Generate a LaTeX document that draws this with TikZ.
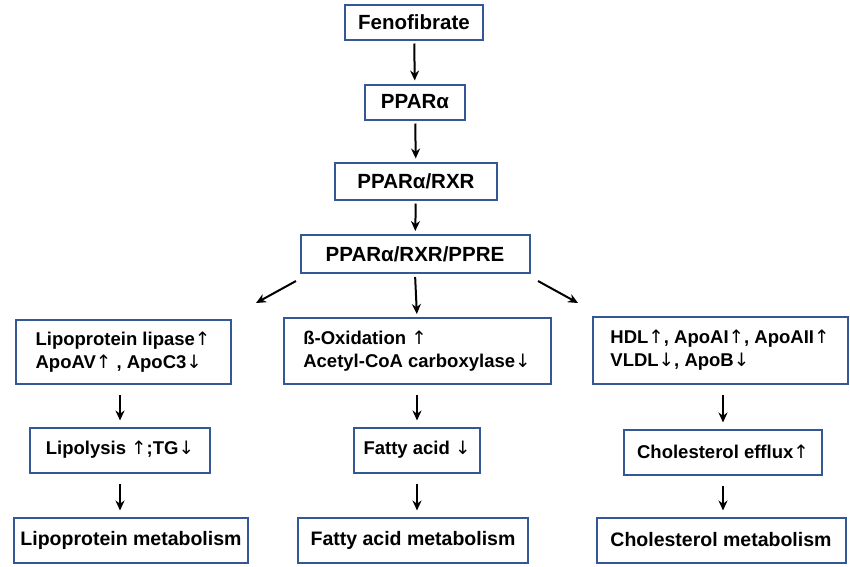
\documentclass[tikz,border=0pt]{standalone}
\usepackage{fontspec}
\setmainfont{Liberation Sans}
\newfontfamily\arf{DejaVu Sans}
\newcommand{\UA}{{\arf\mdseries ↑}}
\newcommand{\DA}{{\arf\mdseries ↓}}
\usetikzlibrary{arrows.meta}
\definecolor{bx}{RGB}{52,88,150}
\begin{document}
\begin{tikzpicture}[x=1pt,y=1pt,
 box/.style={draw=bx,line width=2pt,fill=white,inner sep=0pt,font=\bfseries\fontsize{18.5}{23}\selectfont,align=center},
 ar/.style={-{Stealth[length=10pt,width=9pt]},line width=2pt,shorten >=3pt,shorten <=3pt}]
\useasboundingbox (0,0) rectangle (850,-566);
\node[box,minimum width=138,minimum height=35] (f) at (414,-22) {\fontsize{20.5}{23}\selectfont Fenofibrate};
\node[box,minimum width=100,minimum height=35] (p) at (415,-102) {\fontsize{20.5}{23}\selectfont PPARα};
\node[box,minimum width=162,minimum height=37] (pr) at (416,-181) {\fontsize{20.5}{23}\selectfont PPARα/RXR};
\node[box,minimum width=229,minimum height=38] (pp) at (415,-254) {\fontsize{20.5}{23}\selectfont PPARα/RXR/PPRE};
\node[box,minimum width=215,minimum height=64,align=left] (l1) at (123,-352) {Lipoprotein lipase\UA\\ApoAV\UA\ , ApoC3\DA};
\node[box,minimum width=267,minimum height=66,align=left] (m1) at (417,-351) {ß-Oxidation \UA\\Acetyl-CoA carboxylase\DA};
\node[box,minimum width=255,minimum height=67,align=left] (r1) at (720,-350) {HDL\UA, ApoAI\UA, ApoAII\UA\\VLDL\DA, ApoB\DA};
\node[box,minimum width=180,minimum height=45] (l2) at (120,-450) {Lipolysis \UA;TG\DA};
\node[box,minimum width=126,minimum height=45] (m2) at (417,-450) {Fatty acid \DA};
\node[box,minimum width=198,minimum height=45] (r2) at (723,-452) {Cholesterol efflux\UA};
\node[box,minimum width=234,minimum height=45] (l3) at (131,-540) {\fontsize{19.5}{23}\selectfont Lipoprotein metabolism};
\node[box,minimum width=230,minimum height=45] (m3) at (413,-540) {\fontsize{19.5}{23}\selectfont Fatty acid metabolism};
\node[box,minimum width=249,minimum height=45] (r3) at (721,-540) {\fontsize{19.5}{23}\selectfont Cholesterol metabolism};
\draw[ar] (f) -- (p);
\draw[ar] (p) -- (pr);
\draw[ar] (pr) -- (pp);
\draw[ar] (pp.south) -- (m1.north);
\coordinate (la) at (296,-281); \coordinate (lb) at (256,-303);
\coordinate (ra) at (538,-281); \coordinate (rb) at (578,-303);
\draw[ar,shorten <=0pt,shorten >=0pt] (la) -- (lb);
\draw[ar,shorten <=0pt,shorten >=0pt] (ra) -- (rb);
\draw[ar,shorten <=10pt,shorten >=6pt] (l1.south -| l2.north) -- (l2.north);
\draw[ar,shorten <=10pt,shorten >=6pt] (m1) -- (m2);
\draw[ar,shorten <=10pt,shorten >=6pt] (r1.south -| r2.north) -- (r2.north);
\draw[ar,shorten <=10pt,shorten >=6pt] (l2.south) -- (l2.south |- l3.north);
\draw[ar,shorten <=10pt,shorten >=6pt] (m2.south) -- (m2.south |- m3.north);
\draw[ar,shorten <=10pt,shorten >=6pt] (r2.south) -- (r2.south |- r3.north);
\end{tikzpicture}
\end{document}
